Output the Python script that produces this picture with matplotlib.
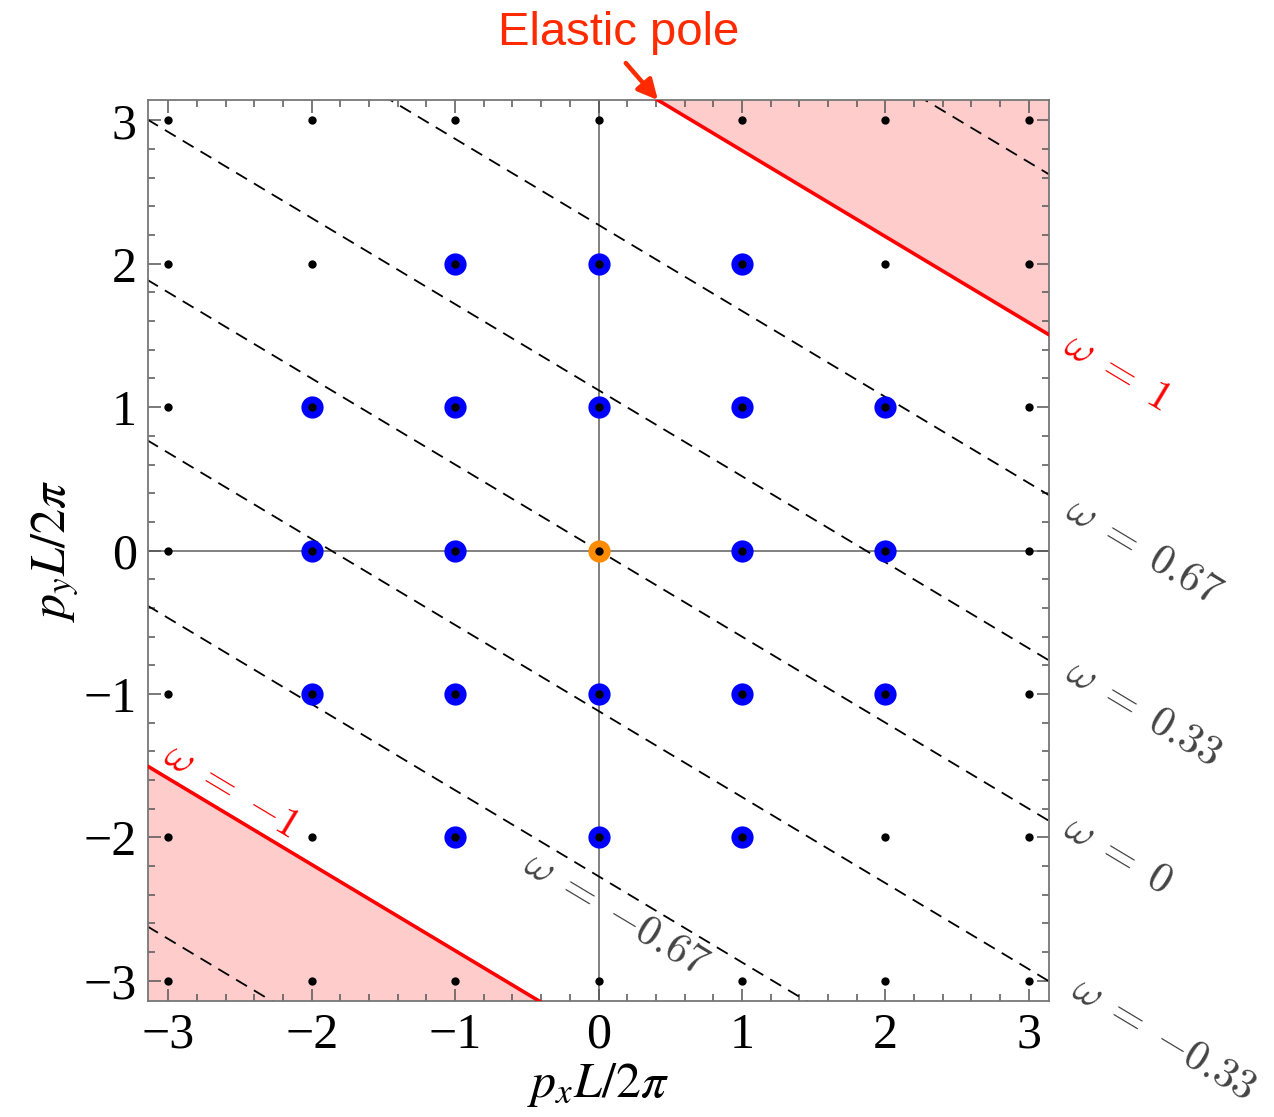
import numpy as np
import matplotlib
matplotlib.use("Agg")
import matplotlib.pyplot as plt
from matplotlib.ticker import MultipleLocator

# lattice momenta (integer grid)
grid = [-3, -2, -1, 0, 1, 2, 3]
# highlighted momenta (blue)
blue_x = [-1, 0, 1, -2, -1, 0, 1, 2, -2, -1, 1, 2, -2, -1, 0, 1, 2, -1, 0, 1]
blue_y = [2, 2, 2, 1, 1, 1, 1, 1, 0, 0, 0, 0, -1, -1, -1, -1, -1, -2, -2, -2]
orange_x = [0]
orange_y = [0]

# constant-omega lines: y = slope*x + omega*scale
slope = -0.6
scale = 3.39
omega_dashed = [-1.33, -0.67, -0.33, 0.0, 0.33, 0.67, 1.33]
omega_red = [-1.0, 1.0]

# labels: text, x, y, color
label_text = [r"$\omega\;=\;1$", r"$\omega\;=\;0.67$", r"$\omega\;=\;0.33$", r"$\omega\;=\;0$",
              r"$\omega\;=\;{-}0.33$", r"$\omega\;=\;{-}0.67$", r"$\omega\;=\;{-}1$"]
label_x = [3.62, 3.80, 3.80, 3.62, 3.94, 0.12, -2.56]
label_y = [1.25, 0.0, -1.13, -2.12, -3.40, -2.53, -1.67]
label_col = ["#ff0000", "#444444", "#444444", "#444444", "#444444", "#444444", "#ff0000"]

L = np.pi
rot = np.degrees(np.arctan(slope))

fig = plt.figure(figsize=(12.74, 11.17), dpi=100)
ax = fig.add_axes([0.1162, 0.1038, 0.7072, 0.8066])
ax.set_xlim(-L, L)
ax.set_ylim(-L, L)

xs = np.array([-L - 1, L + 1])
# shaded regions beyond |omega| = 1
ax.fill_between(xs, slope * xs + scale, 10, color="#ffcccc", lw=0, zorder=0)
ax.fill_between(xs, -10, slope * xs - scale, color="#ffcccc", lw=0, zorder=0)

ax.axhline(0, color="#777777", lw=1.3, zorder=1)
ax.axvline(0, color="#777777", lw=1.3, zorder=1)

for w in omega_dashed:
    ax.plot(xs, slope * xs + w * scale, color="black", lw=1.3, dashes=(7, 4.5), zorder=2)
for w in omega_red:
    ax.plot(xs, slope * xs + w * scale, color="#ff0000", lw=2.6, zorder=3)

gx, gy = np.meshgrid(grid, grid)
ax.plot(blue_x, blue_y, "o", color="#0000ff", ms=16, mew=0, zorder=4)
ax.plot(orange_x, orange_y, "o", color="#ff8c00", ms=16, mew=0, zorder=4)
ax.plot(gx.ravel(), gy.ravel(), "o", color="black", ms=6, mew=0, zorder=5)

for t, x, y, c in zip(label_text, label_x, label_y, label_col):
    ax.text(x, y, t, color=c, fontsize=31, rotation=rot, rotation_mode="anchor",
            ha="center", va="center", math_fontfamily="cm", clip_on=False)

# elastic pole label and arrow
ax.text(0.14, 3.61, "Elastic pole", color="#ff2a00", fontsize=34, family="Liberation Sans",
        ha="center", va="center", clip_on=False)
ax.annotate("", xy=((scale - L) / -slope, L), xytext=(0.19, 3.40),
            annotation_clip=False,
            arrowprops=dict(arrowstyle="-|>", color="#ff2a00", lw=3.2, mutation_scale=30,
                            shrinkA=0, shrinkB=0))

ax.xaxis.set_major_locator(MultipleLocator(1))
ax.yaxis.set_major_locator(MultipleLocator(1))
ax.xaxis.set_minor_locator(MultipleLocator(0.2))
ax.yaxis.set_minor_locator(MultipleLocator(0.2))
ax.tick_params(which="both", direction="in", top=True, right=True, color="#555555", width=1.1)
ax.tick_params(which="major", length=9, labelsize=36, pad=8)
ax.tick_params(which="minor", length=5)
for lab in ax.get_xticklabels() + ax.get_yticklabels():
    lab.set_family("Liberation Serif")
for s in ax.spines.values():
    s.set_color("#777777")
    s.set_linewidth(1.3)

ax.set_xlabel(r"$p_xL/2\pi$", fontsize=36, math_fontfamily="stix", labelpad=2)
ax.set_ylabel(r"$p_yL/2\pi$", fontsize=36, math_fontfamily="stix", labelpad=2)

fig.savefig("out.png", dpi=100)
